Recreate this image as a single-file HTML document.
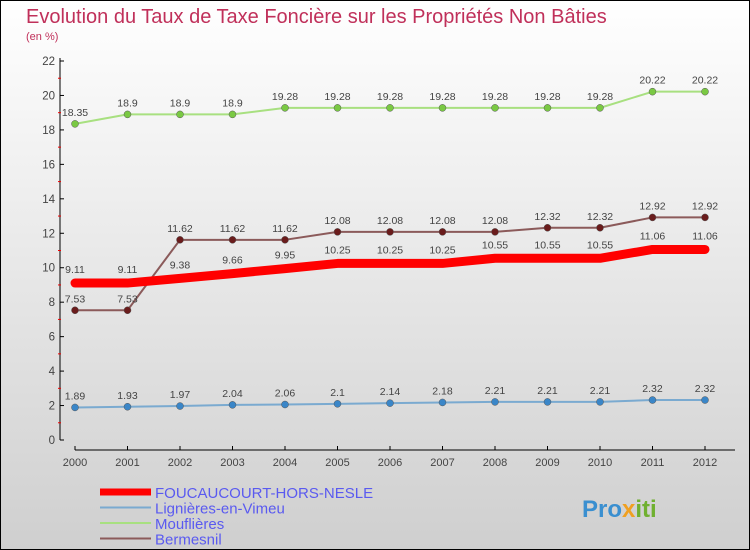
<!DOCTYPE html>
<html><head><meta charset="utf-8"><style>
body{margin:0}
svg{display:block;font-family:"Liberation Sans",sans-serif}
</style></head><body>
<svg id="c" width="750" height="550" xmlns="http://www.w3.org/2000/svg">
<defs><linearGradient id="bg" x1="0" y1="0" x2="0" y2="1"><stop offset="0" stop-color="#ffffff"/><stop offset="1" stop-color="#cfcfcf"/></linearGradient></defs>
<rect x="0.5" y="0.5" width="749" height="549" fill="url(#bg)" stroke="#000"/>
<text x="26" y="23" font-size="20" fill="#c0305a">Evolution du Taux de Taxe Foncière sur les Propriétés Non Bâties</text>
<text x="26" y="40" font-size="11" fill="#c0305a">(en %)</text>
<g id="axes"></g>
<g id="series"></g>
<g id="legend"></g>
<text x="582" y="517" font-size="24" font-weight="bold" fill="#3a8fd0">Pro<tspan fill="#f0a020">x</tspan><tspan fill="#70b030">iti</tspan></text>
</svg>
<script>
const years=["2000","2001","2002","2003","2004","2005","2006","2007","2008","2009","2010","2011","2012"];
const yTicks=[0,2,4,6,8,10,12,14,16,18,20,22];
const foucaucourt=[9.11,9.11,9.38,9.66,9.95,10.25,10.25,10.25,10.55,10.55,10.55,11.06,11.06];
const lignieres=[1.89,1.93,1.97,2.04,2.06,2.1,2.14,2.18,2.21,2.21,2.21,2.32,2.32];
const mouflieres=[18.35,18.9,18.9,18.9,19.28,19.28,19.28,19.28,19.28,19.28,19.28,20.22,20.22];
const bermesnil=[7.53,7.53,11.62,11.62,11.62,12.08,12.08,12.08,12.08,12.32,12.32,12.92,12.92];
const NS="http://www.w3.org/2000/svg";
const xS=i=>75+i*52.5, yS=v=>440-v*(379/22);
function mk(p,t,a){const e=document.createElementNS(NS,t);for(const k in a)e.setAttribute(k,a[k]);p.appendChild(e);return e;}
const ax=document.getElementById('axes');
let e=mk(ax,'line',{x1:60,y1:58,x2:60,y2:440,stroke:'#000'});


e=mk(ax,'line',{x1:75,y1:450,x2:735,y2:450,stroke:'#000'});


yTicks.forEach(v=>{
 mk(ax,'line',{x1:60,y1:yS(v),x2:64,y2:yS(v),stroke:'#000'});
 if(v<22)mk(ax,'line',{x1:58,y1:yS(v+1),x2:61,y2:yS(v+1),stroke:'#e00'});
 const t=mk(ax,'text',{x:55,y:yS(v)+4,'font-size':11.5,'text-anchor':'end',fill:'#444'});t.textContent=v;
 
 
});
years.forEach((y,i)=>{
 mk(ax,'line',{x1:xS(i),y1:446,x2:xS(i),y2:450,stroke:'#000'});
 const t=mk(ax,'text',{x:xS(i),y:466,'font-size':11,'text-anchor':'middle',fill:'#444'});t.textContent=y;
 
 
});
const sg=document.getElementById('series');
const series=[
 {n:'mouflieres',d:mouflieres,c:'#a8e080',dot:'#7ac943',w:2,r:3.5},
 {n:'bermesnil',d:bermesnil,c:'#8b5a5a',dot:'#6a1c1c',w:2,r:3.5},
 {n:'lignieres',d:lignieres,c:'#7aaad0',dot:'#3a86c8',w:2,r:3.5},
 {n:'foucaucourt',d:foucaucourt,c:'#ff0000',dot:'#ff0000',w:9,r:0}
];
series.forEach(s=>{
 const g=mk(sg,'g',{});
 
 
 const pl=mk(g,'polyline',{points:s.d.map((v,i)=>xS(i)+','+yS(v)).join(' '),fill:'none',stroke:s.c,'stroke-width':s.w,'stroke-linejoin':'round','stroke-linecap':'round'});
 
 
 s.d.forEach((v,i)=>{
  if(s.r){const c=mk(g,'circle',{cx:xS(i),cy:yS(v),r:s.r,fill:s.dot,stroke:'#555','stroke-width':0.5});
  
  }
  const t=mk(g,'text',{x:xS(i),y:yS(v)-(s.n=='foucaucourt'?10:8),'font-size':10.5,'text-anchor':'middle',fill:'#444'});
  t.textContent=String(v);
  
  
 });
});
const lg=document.getElementById('legend');
[['FOUCAUCOURT-HORS-NESLE','#ff0000',7],['Lignières-en-Vimeu','#7aaad0',2],['Mouflières','#a8e080',2],['Bermesnil','#8b5a5a',2]].forEach((l,i)=>{
 const y=492+i*15.5;
 const g=mk(lg,'g',{});
 
 
 mk(g,'line',{x1:100,y1:y,x2:151,y2:y,stroke:l[1],'stroke-width':l[2]});
 const t=mk(g,'text',{x:155,y:y+6,'font-size':15,fill:'#5a5af0'});t.textContent=l[0];
});
</script>
</body></html>
